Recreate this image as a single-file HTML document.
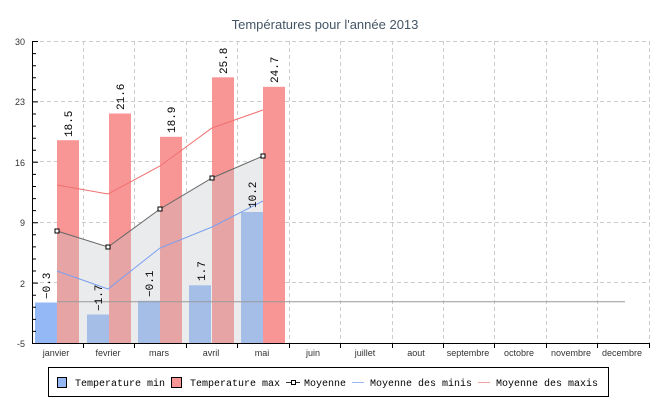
<!DOCTYPE html>
<html><head><meta charset="utf-8"><style>body{margin:0;background:#fff}svg{display:block}</style></head><body>
<svg width="650" height="400" xmlns="http://www.w3.org/2000/svg" font-family="Liberation Sans, sans-serif">
<defs><clipPath id="ar"><polygon points="57,231 108,247 160,209 212,178 263,156 263,343 57,343"/></clipPath></defs>
<rect width="650" height="400" fill="#fff"/>
<text x="325" y="29" text-anchor="middle" font-size="13" fill="#445566">Températures pour l'année 2013</text>
<!-- grid -->
<g stroke="#ccc" stroke-dasharray="4,3" stroke-width="1">
<line x1="33" y1="41.5" x2="650" y2="41.5"/><line x1="33" y1="101.5" x2="650" y2="101.5"/><line x1="33" y1="161.5" x2="650" y2="161.5"/><line x1="33" y1="222.5" x2="650" y2="222.5"/><line x1="33" y1="282.5" x2="650" y2="282.5"/>
<line x1="83.5" y1="41" x2="83.5" y2="343"/><line x1="134.5" y1="41" x2="134.5" y2="343"/><line x1="186.5" y1="41" x2="186.5" y2="343"/><line x1="237.5" y1="41" x2="237.5" y2="343"/><line x1="289.5" y1="41" x2="289.5" y2="343"/><line x1="340.5" y1="41" x2="340.5" y2="343"/><line x1="392.5" y1="41" x2="392.5" y2="343"/><line x1="443.5" y1="41" x2="443.5" y2="343"/><line x1="494.5" y1="41" x2="494.5" y2="343"/><line x1="546.5" y1="41" x2="546.5" y2="343"/><line x1="597.5" y1="41" x2="597.5" y2="343"/><line x1="649.5" y1="41" x2="649.5" y2="343"/>
</g>
<!-- bars -->
<g fill="#94b8f6">
<rect x="35" y="302.5" width="22" height="40.5"/><rect x="87" y="314.5" width="22" height="28.5"/><rect x="138" y="300.8" width="22" height="42.2"/><rect x="189" y="285.3" width="22" height="57.7"/><rect x="241" y="212" width="22" height="131"/>
</g>
<g fill="#f89696">
<rect x="57" y="140.2" width="22" height="202.8"/><rect x="109" y="113.5" width="22" height="229.5"/><rect x="160" y="136.8" width="22" height="206.2"/><rect x="212" y="77.3" width="22" height="265.7"/><rect x="263" y="86.8" width="22" height="256.2"/>
</g>
<!-- area -->
<g clip-path="url(#ar)">
<rect x="57" y="150" width="206" height="193" fill="#eaebed"/>
<g fill="#a4bee8">
<rect x="87" y="314.5" width="22" height="28.5"/><rect x="138" y="300.8" width="22" height="42.2"/><rect x="189" y="285.3" width="22" height="57.7"/><rect x="241" y="212" width="22" height="131"/>
</g>
<g fill="#e6a4a4">
<rect x="57" y="140.2" width="22" height="202.8"/><rect x="109" y="113.5" width="22" height="229.5"/><rect x="160" y="136.8" width="22" height="206.2"/><rect x="212" y="77.3" width="22" height="265.7"/>
</g>
</g>
<line x1="57" y1="301.7" x2="625" y2="301.7" stroke="#999" stroke-width="1"/>
<polyline points="57,271 108,289 160,248 212,227 263,201" fill="none" stroke="#7aa0f0" stroke-width="1"/>
<polyline points="57,185 108,194 160,166 212,128 263,110" fill="none" stroke="#f07070" stroke-width="1"/>
<polyline points="57,231 108,247 160,209 212,178 263,156" fill="none" stroke="#666" stroke-width="1"/>
<g fill="#fff" stroke="#000" stroke-width="1">
<rect x="55" y="229" width="4" height="4"/><rect x="106" y="245" width="4" height="4"/><rect x="158" y="207" width="4" height="4"/><rect x="210" y="176" width="4" height="4"/><rect x="261" y="154" width="4" height="4"/>
</g>
<!-- value labels -->
<g font-family="Liberation Mono, monospace" font-size="11" fill="#000">
<text transform="translate(50,299) rotate(-90)">−0.3</text>
<text transform="translate(102,311) rotate(-90)">−1.7</text>
<text transform="translate(153,297) rotate(-90)">−0.1</text>
<text transform="translate(205,281) rotate(-90)">1.7</text>
<text transform="translate(256,208) rotate(-90)">10.2</text>
<text transform="translate(72,137) rotate(-90)">18.5</text>
<text transform="translate(124,110) rotate(-90)">21.6</text>
<text transform="translate(175,133) rotate(-90)">18.9</text>
<text transform="translate(227,74) rotate(-90)">25.8</text>
<text transform="translate(278,83) rotate(-90)">24.7</text>
</g>
<!-- axes -->
<g stroke="#000" stroke-width="1">
<line x1="32.5" y1="41" x2="32.5" y2="344"/>
<line x1="32" y1="343.5" x2="650" y2="343.5"/>
<path d="M32 41.5h6M32 101.9h6M32 162.3h6M32 222.7h6M32 283.1h6M32 53.6h4M32 65.7h4M32 77.8h4M32 89.8h4M32 114h4M32 126.1h4M32 138.2h4M32 150.2h4M32 174.4h4M32 186.5h4M32 198.6h4M32 210.6h4M32 234.8h4M32 246.9h4M32 259h4M32 271h4M32 295.2h4M32 307.3h4M32 319.4h4M32 331.4h4"/>
<path d="M83.5 343v5M134.5 343v5M186.5 343v5M237.5 343v5M289.5 343v5M340.5 343v5M392.5 343v5M443.5 343v5M494.5 343v5M546.5 343v5M597.5 343v5M649.5 343v5"/>
</g>
<g font-size="9" fill="#333" text-anchor="end">
<text x="25" y="45">30</text><text x="25" y="105">23</text><text x="25" y="166">16</text><text x="25" y="226">9</text><text x="25" y="287">2</text><text x="25" y="347">-5</text>
</g>
<g font-size="9" fill="#333" text-anchor="middle">
<text x="56" y="356">janvier</text><text x="108" y="356">fevrier</text><text x="159" y="356">mars</text><text x="211" y="356">avril</text><text x="262" y="356">mai</text><text x="313" y="356">juin</text><text x="365" y="356">juillet</text><text x="416" y="356">aout</text><text x="468" y="356">septembre</text><text x="519" y="356">octobre</text><text x="571" y="356">novembre</text><text x="622" y="356">decembre</text>
</g>
<!-- legend -->
<rect x="48.5" y="367.5" width="560" height="29" fill="#fff" stroke="#000"/>
<rect x="57.5" y="377.5" width="9" height="10" fill="#94b8f6" stroke="#000"/>
<rect x="171.5" y="377.5" width="10" height="10" fill="#f89696" stroke="#000"/>
<line x1="286" y1="382.5" x2="300" y2="382.5" stroke="#333"/>
<rect x="291.5" y="380.5" width="4" height="4" fill="#fff" stroke="#000"/>
<line x1="352" y1="382.5" x2="364" y2="382.5" stroke="#9ab8f0"/>
<line x1="478" y1="382.5" x2="490" y2="382.5" stroke="#f4a0a0"/>
<g font-family="Liberation Mono, monospace" font-size="10" fill="#000">
<text x="75" y="386">Temperature min</text>
<text x="190" y="386">Temperature max</text>
<text x="304" y="386">Moyenne</text>
<text x="370" y="386">Moyenne des minis</text>
<text x="496" y="386">Moyenne des maxis</text>
</g>
</svg>
</body></html>
